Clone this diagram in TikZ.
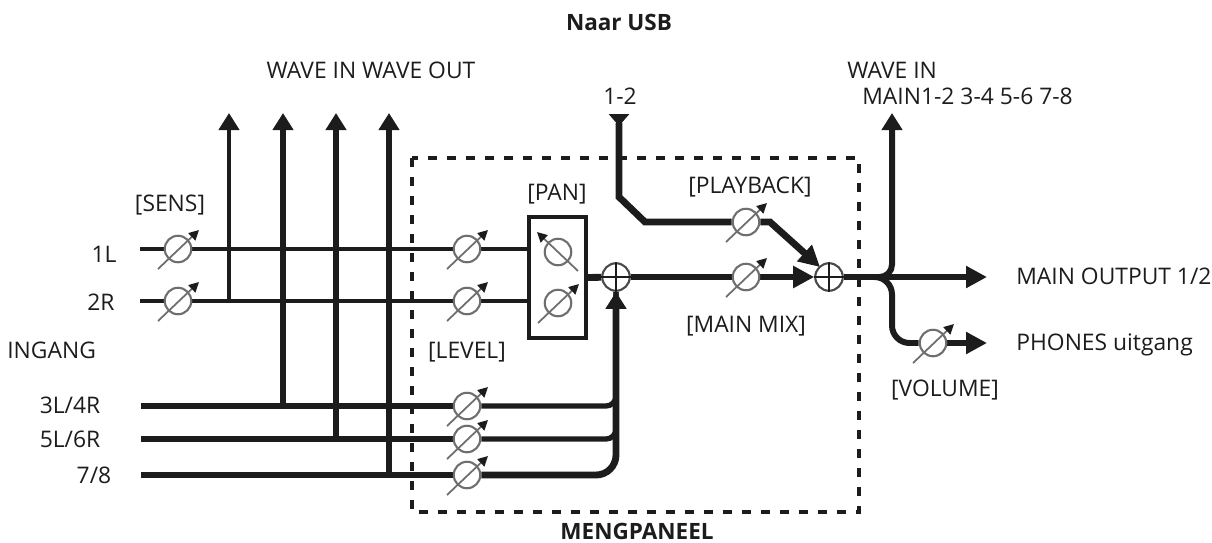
\documentclass[tikz,border=0pt]{standalone}
\usepackage{fontspec}
\setmainfont{Open Sans}
\usetikzlibrary{arrows.meta,backgrounds}
\definecolor{ink}{HTML}{1C1C1C}
\definecolor{dialgray}{HTML}{6E6E6E}
\tikzset{
  wire/.style={draw=ink, line width=1.9pt},
  tapwire/.style={draw=ink, line width=2.5pt},
  medwire/.style={draw=ink, line width=3pt},
  bus/.style={draw=ink, line width=3.9pt},
  arrowed/.style={-{Triangle[width=0.4cm,length=0.34cm]}},
  bigarrowed/.style={-{Triangle[width=0.42cm,length=0.42cm]}},
  dial/.style={circle, draw=dialgray, fill=white, line width=1.2pt, minimum size=0.53cm, inner sep=0pt},
  sum/.style={circle, draw=ink!80, fill=white, line width=1.2pt, minimum size=0.55cm, inner sep=0pt},
  knob/.style={draw=dialgray, line width=1pt, -{Triangle[width=0.2cm,length=0.2cm,color=ink]}},
  lbl/.style={text=ink, font=\fontsize{13}{15}\selectfont, inner sep=0pt},
  lblbold/.style={lbl, font=\fontsize{12.8}{15}\selectfont\bfseries}
}
\begin{document}
\begin{tikzpicture}[x=0.02cm, y=-0.02cm]
      \useasboundingbox (0,0) rectangle (1212,542);
      % free ends
      \coordinate (in1) at (140,249);
      \coordinate (in2) at (140,301);
      \coordinate (in3) at (141,406);
      \coordinate (in4) at (141,439);
      \coordinate (in5) at (141,475);
      \coordinate (up1) at (229,113);
      \coordinate (up2) at (283,113);
      \coordinate (up3) at (336,113);
      \coordinate (up4) at (389,113);
      \coordinate (usb) at (619,114);
      \coordinate (bend1) at (619,197);
      \coordinate (bend2) at (645,222);
      \coordinate (bend3) at (770,222);
      \coordinate (hit) at (820,267);
      \coordinate (split) at (875,277);
      \coordinate (waveout) at (892,113);
      \coordinate (mainout) at (987,277);
      \coordinate (phones) at (987,343);
      % dials
      \node (sens1) at (178,249) [dial] {};
      \node (sens2) at (178,301) [dial] {};
      \node (lev1) at (467,249) [dial] {};
      \node (lev2) at (467,301) [dial] {};
      \node (lev3) at (467,406) [dial] {};
      \node (lev4) at (467,439) [dial] {};
      \node (lev5) at (467,475) [dial] {};
      \node (main) at (746,277) [dial] {};
      \node (play) at (746,222) [dial] {};
      \node (vol) at (933,343) [dial] {};
      \node (pan) at (557.5,277.5) [draw=ink, line width=2.2pt, minimum width=1.14cm, minimum height=2.42cm, inner sep=0pt] {};
      \node (pan1) at (558,252) [dial] {};
      \node (pan2) at (558,303) [dial] {};
      \node (sum1) at (616,277) [sum] {};
      \node (sum2) at (829,277) [sum] {};
      \begin{pgfonlayer}{background}
      % mixer frame
      \draw[draw=ink, line width=1.9pt, dash pattern=on 0.18cm off 0.2cm] (412,158) rectangle (859,512);
      % thin and thick lines
      \foreach \source/\dest in {in1/sens1, sens1/lev1, in2/sens2, sens2/lev2}
        \path[wire] (\source) edge (\dest);
      \draw[wire] (lev1) -- (lev1 -| pan.west);
      \draw[wire] (lev2) -- (lev2 -| pan.west);
      \foreach \source/\dest in {in3/lev3, in4/lev4, in5/lev5}
        \path[medwire] (\source) edge (\dest);
      \draw[tapwire, arrowed] (sens2 -| up1) -- (up1);
      \draw[bus, arrowed] (lev3 -| up2) -- (up2);
      \draw[medwire, arrowed] (lev4 -| up3) -- (up3);
      \draw[bus, arrowed] (lev5 -| up4) -- (up4);
      % to the first sum
      \draw[medwire, rounded corners=0.2cm] (lev3) -| (sum1.south);
      \draw[medwire, rounded corners=0.2cm] (lev4) -| (sum1.south);
      \draw[bus, arrowed, rounded corners=0.4cm] (lev5) -| (sum1.south);
      \draw[bus] (pan.east) -- (sum1);
      \draw[bus] (sum1) -- (main);
      \draw[bus, bigarrowed] (main) -- (sum2.west);
      % playback
      \draw[bus, {Triangle[reversed,width=0.4cm,length=0.24cm]}-] (usb) -- (bend1) -- (bend2) -- (play);
      \draw[bus, bigarrowed] (play) -- (bend3) -- (hit);
      \draw[white, line width=1pt] (802,267) -- (815,273);
      % outputs
      \draw[bus] (sum2) -- (split);
      \draw[bus, bigarrowed] (split) -- (mainout);
      \draw[medwire, line width=3.4pt, arrowed, rounded corners=0.25cm] (split) -| (waveout);
      \draw[medwire, line width=3.4pt, rounded corners=0.35cm] (split) -| (waveout |- vol) -- (vol);
      \draw[bus, bigarrowed] (vol) -- (phones);
      \end{pgfonlayer}
      % knobs and plus signs
      \foreach \n in {sens1, sens2, lev1, lev2, lev3, lev4, lev5, main, play, vol, pan2}
        \draw[knob] ([shift={(-20,20)}]\n.center) -- ([shift={(21,-19)}]\n.center);
      \draw[knob] ([shift={(20,19)}]pan1.center) -- ([shift={(-21,-20)}]pan1.center);
      \foreach \n in {sum1, sum2} {
        \draw[draw=ink, line width=1pt] (\n.north) -- (\n.south);
        \draw[draw=ink, line width=1pt] (\n.west) -- (\n.east);
      }
      % labels
      \node (usbtxt) at (619,22) [lblbold] {Naar USB};
      \node (wavetxt) at (371,70) [lbl] {WAVE IN WAVE OUT};
      \node (ch12) at (620,96) [lbl] {1-2};
      \node (wavein) at (847,70) [lbl, anchor=west] {WAVE IN};
      \node (mainch) at (862,96) [lbl, anchor=west] {MAIN1-2 3-4 5-6 7-8};
      \node (senstxt) at (170,205) [lbl] {[SENS]};
      \node (pantxt) at (557,194) [lbl] {[PAN]};
      \node (playtxt) at (750,187) [lbl] {[PLAYBACK]};
      \node (mixtxt) at (746,326) [lbl] {[MAIN MIX]};
      \node (levtxt) at (467,352) [lbl] {[LEVEL]};
      \node (voltxt) at (945,390) [lbl] {[VOLUME]};
      \node (lab1) at (104,254) [lbl] {1L};
      \node (lab2) at (101,302) [lbl] {2R};
      \node (ingang) at (7,350) [lbl, anchor=west] {INGANG};
      \node (lab3) at (70,405) [lbl] {3L/4R};
      \node (lab4) at (70,439) [lbl] {5L/6R};
      \node (lab5) at (94,475) [lbl] {7/8};
      \node (outtxt) at (1016,276) [lbl, anchor=west] {MAIN OUTPUT 1/2};
      \node (phtxt) at (1016,345) [lbl, anchor=west] {PHONES uitgang};
      \node (mengtxt) at (637,531) [lblbold] {MENGPANEEL};
\end{tikzpicture}
\end{document}
